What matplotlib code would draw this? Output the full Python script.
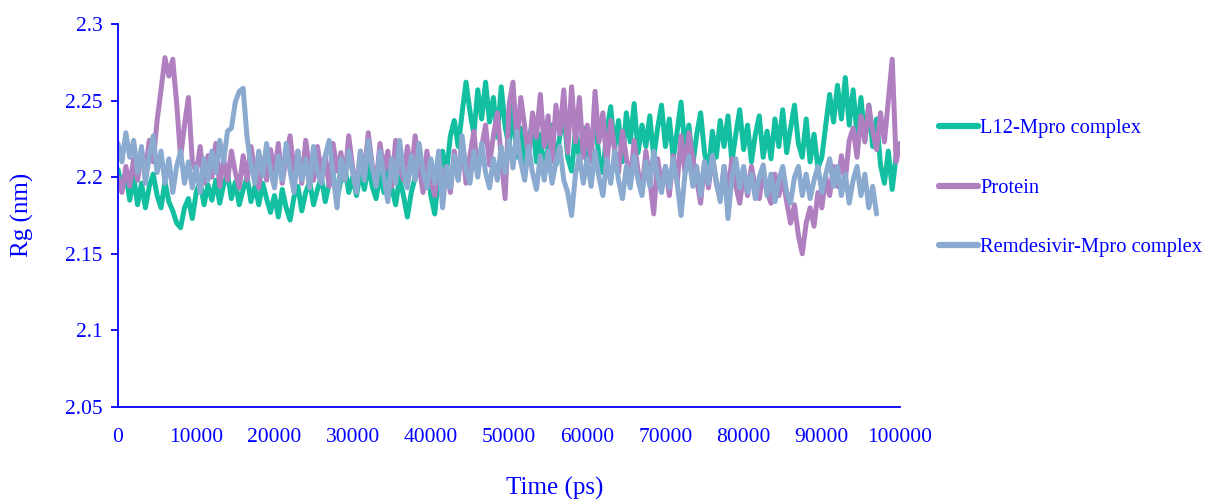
import numpy as np
import matplotlib
matplotlib.use("Agg")
import matplotlib.pyplot as plt

# time axis (ps), one frame every 500 ps
time_ps = np.arange(0, 100001, 500)

# Rg (nm), 20 values per 10 ns row
l12_mpro = [
    2.205, 2.192, 2.202, 2.185, 2.200, 2.182, 2.196, 2.180, 2.194, 2.202, 2.188, 2.180, 2.197, 2.184, 2.178, 2.170, 2.167, 2.180, 2.186, 2.173,
    2.190, 2.197, 2.182, 2.195, 2.185, 2.198, 2.183, 2.195, 2.202, 2.186, 2.197, 2.182, 2.192, 2.200, 2.184, 2.194, 2.182, 2.196, 2.186, 2.177,
    2.188, 2.174, 2.192, 2.180, 2.172, 2.187, 2.194, 2.178, 2.190, 2.197, 2.182, 2.192, 2.200, 2.184, 2.196, 2.202, 2.186, 2.198, 2.207, 2.190,
    2.200, 2.188, 2.204, 2.192, 2.208, 2.194, 2.186, 2.202, 2.190, 2.206, 2.193, 2.182, 2.200, 2.188, 2.174, 2.190, 2.200, 2.208, 2.193, 2.212,
    2.188, 2.176, 2.202, 2.217, 2.203, 2.227, 2.237, 2.220, 2.242, 2.262, 2.243, 2.228, 2.257, 2.238, 2.262, 2.236, 2.252, 2.226, 2.259, 2.233,
    2.220, 2.247, 2.213, 2.232, 2.203, 2.222, 2.237, 2.210, 2.228, 2.202, 2.220, 2.234, 2.208, 2.227, 2.242, 2.213, 2.204, 2.230, 2.212, 2.232,
    2.208, 2.224, 2.238, 2.213, 2.203, 2.230, 2.246, 2.218, 2.237, 2.210, 2.242, 2.223, 2.248, 2.216, 2.234, 2.220, 2.240, 2.213, 2.232, 2.247,
    2.220, 2.238, 2.212, 2.230, 2.249, 2.218, 2.234, 2.208, 2.228, 2.242, 2.216, 2.203, 2.230, 2.213, 2.237, 2.220, 2.240, 2.210, 2.228, 2.244,
    2.218, 2.234, 2.210, 2.228, 2.240, 2.213, 2.230, 2.212, 2.238, 2.220, 2.244, 2.216, 2.232, 2.247, 2.222, 2.213, 2.238, 2.210, 2.228, 2.206,
    2.213, 2.234, 2.254, 2.236, 2.260, 2.238, 2.265, 2.234, 2.257, 2.228, 2.252, 2.224, 2.247, 2.220, 2.238, 2.208, 2.196, 2.217, 2.192, 2.214,
    2.222,
]

protein = [
    2.200, 2.190, 2.207, 2.194, 2.212, 2.198, 2.217, 2.203, 2.224, 2.210, 2.237, 2.257, 2.278, 2.266, 2.277, 2.248, 2.213, 2.234, 2.252, 2.210,
    2.203, 2.220, 2.196, 2.214, 2.200, 2.222, 2.194, 2.212, 2.198, 2.217, 2.203, 2.193, 2.214, 2.198, 2.220, 2.204, 2.193, 2.212, 2.198, 2.218,
    2.203, 2.222, 2.196, 2.214, 2.227, 2.203, 2.217, 2.196, 2.224, 2.206, 2.198, 2.220, 2.203, 2.214, 2.194, 2.222, 2.204, 2.216, 2.198, 2.227,
    2.206, 2.193, 2.217, 2.202, 2.229, 2.208, 2.196, 2.222, 2.204, 2.217, 2.194, 2.224, 2.208, 2.198, 2.220, 2.203, 2.227, 2.208, 2.190, 2.217,
    2.198, 2.188, 2.212, 2.193, 2.207, 2.190, 2.217, 2.198, 2.224, 2.196, 2.214, 2.230, 2.203, 2.220, 2.234, 2.208, 2.227, 2.242, 2.213, 2.186,
    2.247, 2.262, 2.223, 2.252, 2.233, 2.213, 2.242, 2.226, 2.254, 2.220, 2.240, 2.210, 2.247, 2.228, 2.257, 2.216, 2.259, 2.223, 2.252, 2.213,
    2.234, 2.210, 2.256, 2.223, 2.242, 2.208, 2.237, 2.218, 2.203, 2.230, 2.213, 2.196, 2.224, 2.204, 2.190, 2.217, 2.198, 2.176, 2.212, 2.194,
    2.207, 2.188, 2.214, 2.196, 2.227, 2.203, 2.229, 2.213, 2.198, 2.183, 2.210, 2.193, 2.214, 2.196, 2.186, 2.207, 2.190, 2.212, 2.194, 2.183,
    2.202, 2.188, 2.207, 2.193, 2.186, 2.204, 2.190, 2.183, 2.202, 2.188, 2.200, 2.184, 2.170, 2.182, 2.162, 2.150, 2.170, 2.180, 2.168, 2.190,
    2.180, 2.200, 2.188, 2.207, 2.194, 2.214, 2.198, 2.224, 2.232, 2.213, 2.240, 2.223, 2.247, 2.230, 2.218, 2.242, 2.223, 2.250, 2.277, 2.210,
    2.222,
]

# Remdesivir run stops at 97 ns
remdesivir_mpro = [
    2.222, 2.210, 2.229, 2.213, 2.224, 2.203, 2.220, 2.196, 2.214, 2.227, 2.203, 2.217, 2.196, 2.212, 2.190, 2.207, 2.217, 2.196, 2.210, 2.193,
    2.207, 2.190, 2.212, 2.198, 2.217, 2.203, 2.224, 2.210, 2.230, 2.232, 2.249, 2.256, 2.258, 2.226, 2.208, 2.196, 2.217, 2.201, 2.222, 2.204,
    2.193, 2.214, 2.198, 2.222, 2.204, 2.190, 2.217, 2.198, 2.212, 2.193, 2.220, 2.203, 2.196, 2.214, 2.224, 2.202, 2.180, 2.212, 2.198, 2.217,
    2.203, 2.190, 2.217, 2.198, 2.224, 2.206, 2.194, 2.217, 2.200, 2.184, 2.212, 2.196, 2.224, 2.203, 2.193, 2.214, 2.198, 2.222, 2.204, 2.193,
    2.212, 2.196, 2.217, 2.180, 2.207, 2.193, 2.214, 2.198, 2.227, 2.204, 2.196, 2.217, 2.200, 2.222, 2.203, 2.193, 2.212, 2.198, 2.220, 2.203,
    2.224, 2.206, 2.230, 2.210, 2.198, 2.220, 2.203, 2.192, 2.214, 2.198, 2.217, 2.196, 2.210, 2.220, 2.198, 2.190, 2.175, 2.202, 2.214, 2.196,
    2.212, 2.194, 2.217, 2.200, 2.188, 2.212, 2.196, 2.217, 2.198, 2.186, 2.207, 2.193, 2.214, 2.198, 2.188, 2.210, 2.194, 2.217, 2.200, 2.190,
    2.207, 2.193, 2.212, 2.196, 2.175, 2.202, 2.214, 2.194, 2.207, 2.188, 2.210, 2.196, 2.214, 2.198, 2.184, 2.207, 2.173, 2.200, 2.212, 2.193,
    2.207, 2.190, 2.202, 2.186, 2.200, 2.208, 2.188, 2.202, 2.184, 2.198, 2.207, 2.190, 2.183, 2.200, 2.207, 2.188, 2.202, 2.186, 2.198, 2.207,
    2.190, 2.202, 2.212, 2.194, 2.207, 2.188, 2.202, 2.183, 2.198, 2.207, 2.188, 2.202, 2.180, 2.194, 2.176,
]

labels = ["L12-Mpro complex", "Protein", "Remdesivir-Mpro complex"]
colors = ["#12BFA0", "#B07FC0", "#8AAAD0"]
blue = "#0000FF"

plt.rcParams["font.family"] = ["Liberation Serif", "DejaVu Serif"]

fig = plt.figure(figsize=(12.13, 4.99), dpi=100)
ax = fig.add_axes([0.0973, 0.1844, 0.6447, 0.7676])

series = [l12_mpro, protein, remdesivir_mpro]
for vals, lab, col in zip(series, labels, colors):
    ax.plot(time_ps[:len(vals)], vals, color=col, lw=3.6, label=lab,
            solid_joinstyle="round", solid_capstyle="round")

ax.set_xlim(0, 100000)
ax.set_ylim(2.05, 2.3)
ax.set_xticks(np.arange(0, 100001, 10000))
ax.set_yticks([2.05, 2.1, 2.15, 2.2, 2.25, 2.3])
ax.set_yticklabels(["2.05", "2.1", "2.15", "2.2", "2.25", "2.3"])

for side in ["top", "right"]:
    ax.spines[side].set_visible(False)
for side in ["left", "bottom"]:
    ax.spines[side].set_color(blue)
    ax.spines[side].set_linewidth(1.3)

ax.tick_params(axis="x", length=0, pad=15, labelsize=15.5, colors=blue)
ax.tick_params(axis="y", length=5, width=1.3, pad=6, labelsize=15.5, colors=blue)

fig.text(0.0185, 0.569, "Rg (nm)", rotation=90, ha="center", va="center",
         fontsize=18, color=blue)
fig.text(0.457, 0.022, "Time (ps)", ha="center", va="center",
         fontsize=18, color=blue)

leg = ax.legend(loc="upper left", bbox_to_anchor=(1.026, 0.80), frameon=False,
                labelspacing=1.95, handlelength=1.9, handletextpad=0.1,
                fontsize=14.8)
for t in leg.get_texts():
    t.set_color(blue)
for h in leg.get_lines():
    h.set_linewidth(4.5)

fig.savefig("out.png", dpi=100)
